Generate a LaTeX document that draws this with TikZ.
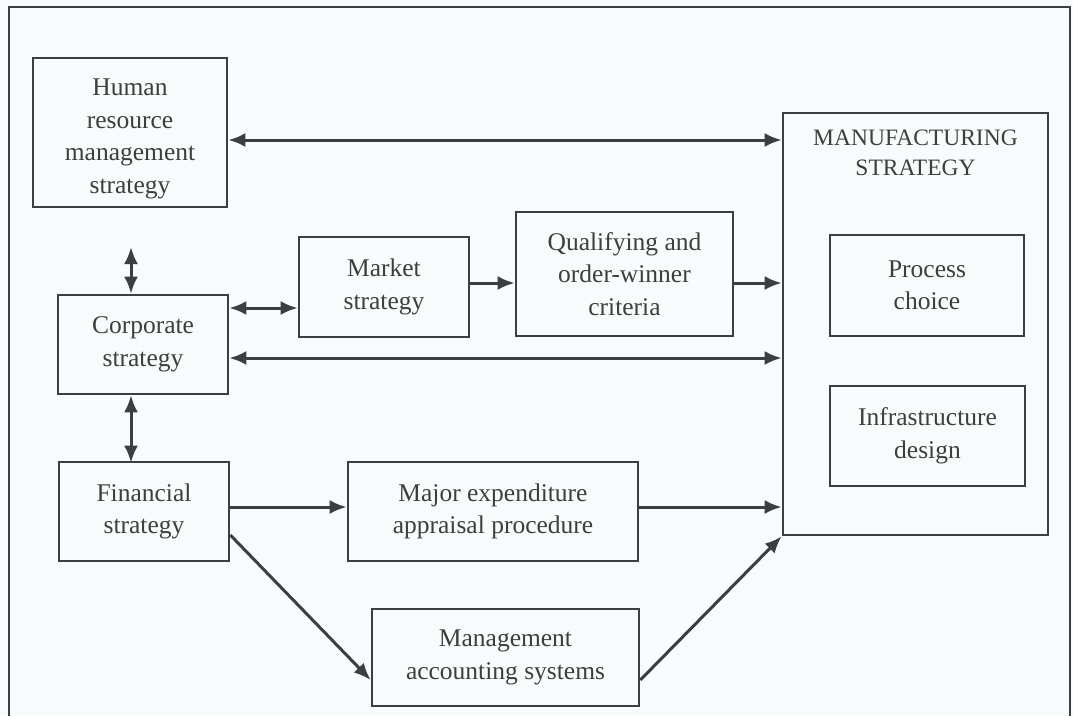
\documentclass[tikz,border=0pt]{standalone}
\usepackage{fontspec}
\setmainfont{Liberation Serif}
\usetikzlibrary{arrows.meta}
\definecolor{ink}{RGB}{60,63,66}
\definecolor{txt}{RGB}{62,62,62}
\definecolor{paper}{RGB}{248,251,252}
\begin{document}
\begin{tikzpicture}[x=1pt,y=-1pt,
  box/.style={draw=ink,line width=2.6pt,rectangle,inner sep=0pt,align=center,
    text=txt,font=\fontsize{25.5}{32.5}\selectfont},
  tip/.tip={Latex[length=17pt,width=14pt]},
  conn/.style={draw=ink,line width=3pt,-tip},
  biconn/.style={draw=ink,line width=3pt,tip-tip}]
  % page and outer frame (open at the bottom)
  \fill[paper] (0,0) rectangle (1073,716);
  \useasboundingbox (0,0) rectangle (1073,716);
  \draw[ink,line width=2.6pt] (9,716) -- (9,7) -- (1070,7) -- (1070,716);

  % strategy boxes
  \node[box,minimum width=194pt,minimum height=149pt] (hr) at (130,132.5)
    {\rule{0pt}{29pt}Human\\resource\\management\\strategy};
  \node[box,minimum width=170pt,minimum height=99pt] (corp) at (143,344.5)
    {Corporate\\strategy};
  \node[box,minimum width=170pt,minimum height=99pt] (fin) at (144,511.5)
    {Financial\\strategy};
  \node[box,minimum width=170pt,minimum height=100pt] (market) at (384,287)
    {Market\\strategy};
  \node[box,minimum width=217pt,minimum height=124pt] (qual) at (624.5,274)
    {Qualifying and\\order-winner\\criteria};
  \node[box,minimum width=290pt,minimum height=99pt] (major) at (493,511.5)
    {Major expenditure\\appraisal procedure};
  \node[box,minimum width=267pt,minimum height=97pt] (mgmt) at (505.5,657.5)
    {Management\\accounting systems};

  % manufacturing strategy and its parts
  \node[box,minimum width=265pt,minimum height=422pt] (manuf) at (915.5,324) {};
  \node[text=txt,align=center,font=\fontsize{23.5}{30}\selectfont] (mtitle) at (915.5,153)
    {MANUFACTURING\\STRATEGY};
  \node[box,minimum width=194pt,minimum height=101pt] (process) at (927,285.5)
    {Process\\choice};
  \node[box,minimum width=195pt,minimum height=100pt] (infra) at (927.5,436)
    {Infrastructure\\design};

  % free end of the short arrow below the HR box
  \coordinate (hrlow) at (131,247);

  % connectors
  \draw[biconn] (hr.east |- 0,140) -- (manuf.west |- 0,140);
  \draw[biconn] (hrlow) -- (corp.north -| hrlow);
  \draw[biconn] (corp.east |- 0,308) -- (market.west |- 0,308);
  \draw[conn] (market.east |- 0,283) -- (qual.west |- 0,283);
  \draw[conn] (qual.east |- 0,283) -- (manuf.west |- 0,283);
  \draw[biconn] (corp.east |- 0,358) -- (manuf.west |- 0,358);
  \draw[biconn] (corp.south -| hrlow) -- ([yshift=-2pt]fin.north -| hrlow);
  \draw[conn] (fin.east |- 0,507) -- (major.west |- 0,507);
  \draw[conn] (major.east |- 0,507) -- (manuf.west |- 0,507);
  \draw[conn] (fin.east |- 0,535) -- (mgmt.west |- 0,680);
  \draw[conn] (mgmt.east |- 0,680) -- (manuf.south west);
\end{tikzpicture}
\end{document}
